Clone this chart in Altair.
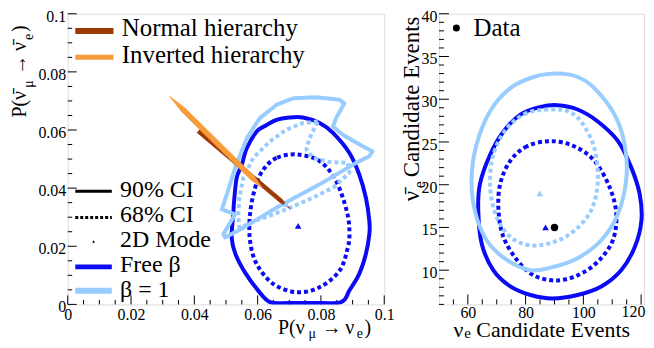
import altair as alt
import pandas as pd

FONT = "Liberation Serif"
DARK = "#0a0af5"
LIGHT = "#99ccff"
BROWN = "#9c3a06"
ORANGE = "#f89b3a"

# ---------------- left panel: P(numu->nue) vs P(numubar->nuebar) ----------------
FREE90_PX = [0.0743, 0.0700, 0.0660, 0.0620, 0.0597, 0.0566, 0.0550, 0.0534, 0.0526, 0.0523,
             0.0518, 0.0530, 0.0560, 0.0600, 0.0639, 0.0700, 0.0780, 0.0864, 0.0890, 0.0921,
             0.0942, 0.0953, 0.0953, 0.0942, 0.0921, 0.0890, 0.0838, 0.0796]
FREE90_PY = [0.0643, 0.0643, 0.0635, 0.0612, 0.0595, 0.0538, 0.0481, 0.0436, 0.0360, 0.0310,
             0.0230, 0.0173, 0.0110, 0.0050, 0.0008, 0.0005, 0.0005, 0.0008, 0.0048, 0.0105,
             0.0173, 0.0242, 0.0287, 0.0367, 0.0447, 0.0521, 0.0590, 0.0624]
FREE68_PX = [0.0723, 0.0660, 0.0618, 0.0592, 0.0576, 0.0576, 0.0597, 0.0649, 0.0723, 0.0796,
             0.0859, 0.0885, 0.0890, 0.0882, 0.0848, 0.0796]
FREE68_PY = [0.0516, 0.0504, 0.0464, 0.0401, 0.0310, 0.0219, 0.0139, 0.0071, 0.0042, 0.0059,
             0.0116, 0.0196, 0.0250, 0.0320, 0.0424, 0.0493]
B1_90_PX = [0.0712, 0.0785, 0.0859, 0.0874, 0.0848, 0.0838, 0.0869, 0.0932, 0.0963, 0.0953,
            0.0911, 0.0796, 0.0660, 0.0555, 0.0497, 0.0492, 0.0529, 0.0487, 0.0503, 0.0529,
            0.0566, 0.0607, 0.0660]
B1_90_PY = [0.0709, 0.0713, 0.0704, 0.0692, 0.0641, 0.0612, 0.0584, 0.0544, 0.0527, 0.0510,
            0.0487, 0.0413, 0.0333, 0.0264, 0.0230, 0.0242, 0.0310, 0.0327, 0.0379, 0.0470,
            0.0572, 0.0641, 0.0687]
B1_68_PX = [0.0790, 0.0743, 0.0691, 0.0639, 0.0586, 0.0555, 0.0542, 0.0539, 0.0542, 0.0607,
            0.0691, 0.0764, 0.0838, 0.0890, 0.0885, 0.0827, 0.0775, 0.0754, 0.0764, 0.0780]
B1_68_PY = [0.0629, 0.0624, 0.0601, 0.0561, 0.0504, 0.0436, 0.0367, 0.0310, 0.0264, 0.0293,
            0.0327, 0.0362, 0.0401, 0.0453, 0.0487, 0.0490, 0.0504, 0.0533, 0.0572, 0.0607]
NH_PX = [0.0417, 0.0677, 0.0702, 0.0669, 0.0409]
NH_PY = [0.0601, 0.0362, 0.0330, 0.0352, 0.0591]
IH_PX = [0.0322, 0.0371, 0.0590, 0.0613, 0.0579, 0.0360]
IH_PY = [0.0716, 0.0675, 0.0440, 0.0403, 0.0428, 0.0663]
MODE_FREE_P = (0.0728, 0.0270)
MODE_B1_P = (0.0689, 0.0346)

# ---------------- right panel: candidate events ----------------
R_FREE90_X = [91.0, 85.2, 78.2, 72.3, 67.7, 64.2, 63.6, 64.8, 68.8, 74.7, 81.7, 89.3, 98.0,
              106.2, 113.1, 117.8, 120.1, 119.5, 116.6, 112.0, 105.0, 98.0]
R_FREE90_Y = [29.3, 29.1, 28.2, 26.2, 23.5, 20.1, 17.0, 13.1, 10.0, 8.1, 7.1, 6.7, 7.1,
              8.1, 10.0, 12.7, 15.8, 18.9, 22.0, 25.1, 27.4, 28.8]
R_FREE68_X = [88.7, 80.5, 74.7, 71.2, 70.6, 72.3, 77.0, 82.8, 90.4, 98.0, 105.0, 110.2, 111.4,
              109.1, 103.8, 96.8]
R_FREE68_Y = [25.1, 24.5, 22.8, 20.1, 17.0, 13.9, 11.2, 9.4, 8.8, 9.4, 11.0, 13.5, 16.6,
              19.7, 22.8, 24.5]
R_B1_90_X = [91.0, 82.8, 74.7, 67.7, 63.0, 61.3, 62.4, 66.5, 73.5, 81.7, 89.8, 98.0, 106.2,
             112.0, 114.9, 114.3, 110.8, 103.8, 98.0]
R_B1_90_Y = [33.0, 32.6, 31.3, 28.6, 24.7, 20.8, 17.0, 13.5, 11.2, 10.0, 10.4, 11.4, 13.5,
             16.6, 20.8, 24.7, 28.2, 31.3, 32.6]
R_B1_68_X = [88.7, 80.5, 73.5, 68.8, 67.7, 70.0, 74.7, 81.7, 89.8, 96.8, 102.7, 105.0, 103.8,
             99.2, 94.5]
R_B1_68_Y = [28.8, 28.4, 26.6, 23.5, 19.7, 16.2, 13.9, 12.9, 13.3, 14.6, 17.0, 20.4, 24.3,
             27.4, 28.6]
R_DATA = (90.0, 15.0)
R_MODE_FREE = (86.9, 15.0)
R_MODE_B1 = (84.9, 19.0)

# axis ticks / labels
L_MAJOR = [0, 0.02, 0.04, 0.06, 0.08, 0.1]
L_MINOR = [round(i * 0.005, 3) for i in range(21) if i % 4 != 0]
RX_MAJOR = [60, 80, 100, 120]
RX_LABELS = [60, 80, 100]
RX_MINOR = [55, 65, 70, 75, 85, 90, 95, 105, 110, 115]
RY_MAJOR = [10, 15, 20, 25, 30, 35, 40]
RY_MINOR = [v for v in range(6, 41) if v % 5 != 0]

# ---------------- layout (page pixels) ----------------
L_X0, Y0, L_W, H = 66.7, 11.7, 318, 292
R_X0, R_W = 438.5, 206
SPLIT = 396  # page x where the two cells meet


def poly(xs, ys, close=True):
    xs, ys = list(xs), list(ys)
    if close:
        xs, ys = xs + xs[:1], ys + ys[:1]
    return pd.DataFrame({"x": xs, "y": ys, "o": list(range(len(xs)))})


def make_xy(xdom, ydom, xvals, yvals, fmt, xpad, ypad):
    common = dict(ticks=False, domain=False, grid=False, title=None, labelFont=FONT,
                  labelFontSize=16, labelColor="black", labelFlush=False,
                  labelOverlap=False, format=fmt)
    xs = alt.Scale(domain=xdom, nice=False, zero=False)
    ys = alt.Scale(domain=ydom, nice=False, zero=False)

    def X(f):
        return alt.X(f"{f}:Q", scale=xs,
                     axis=alt.Axis(values=xvals, labelPadding=xpad, **common))

    def Y(f):
        return alt.Y(f"{f}:Q", scale=ys,
                     axis=alt.Axis(values=yvals, labelPadding=ypad, labelOffset=2.5, **common))
    return X, Y


def contour(X, Y, xs, ys, color, width, dash=None, smooth=False):
    mk = dict(color=color, strokeWidth=width, clip=True, strokeJoin="round")
    if dash:
        mk["strokeDash"] = dash
    if smooth:
        mk["interpolate"] = "cardinal-closed"
    return alt.Chart(poly(xs, ys, close=not smooth)).mark_line(**mk).encode(
        x=X("x"), y=Y("y"), order="o:Q")


def polygon(X, Y, xs, ys, color):
    return alt.Chart(poly(xs, ys)).mark_line(
        filled=True, fill=color, stroke=color, strokeWidth=0.8, clip=True
    ).encode(x=X("x"), y=Y("y"), order="o:Q")


def marker(X, Y, pt, color, shape, size):
    return alt.Chart(pd.DataFrame({"x": [pt[0]], "y": [pt[1]]})).mark_point(
        shape=shape, filled=True, size=size, color=color, opacity=1
    ).encode(x=X("x"), y=Y("y"))


def xticks(X, vals, length):
    return alt.Chart(pd.DataFrame({"x": vals})).mark_rule(color="black", strokeWidth=1).encode(
        x=X("x"), y=alt.value(H), y2=alt.value(H - length))


def yticks(Y, vals, length):
    return alt.Chart(pd.DataFrame({"y": vals})).mark_rule(color="black", strokeWidth=1).encode(
        y=Y("y"), x=alt.value(0), x2=alt.value(length))


DUMMY = pd.DataFrame({"d": [0]})


def sample(x0, x1, y, color, width, dash=None):
    mk = dict(color=color, strokeWidth=width)
    if dash:
        mk["strokeDash"] = dash
    return alt.Chart(DUMMY).mark_rule(**mk).encode(
        x=alt.value(x0), x2=alt.value(x1), y=alt.value(y))


def anchor(x, y):
    # invisible zero-length rule that pins the layout bounds
    return alt.Chart(DUMMY).mark_rule(strokeWidth=0.5, opacity=0).encode(
        x=alt.value(x), x2=alt.value(x), y=alt.value(y), y2=alt.value(y))


def texts(rows, x0, y0):
    df = pd.DataFrame(rows, columns=["t", "px", "py", "fs", "ang"])
    df["px"] = df["px"] - x0
    df["py"] = df["py"] - y0
    return alt.Chart(df).mark_text(align="left", baseline="alphabetic", font=FONT,
                                   color="black").encode(
        x=alt.X("px:Q", scale=None, axis=None),
        y=alt.Y("py:Q", scale=None, axis=None),
        text="t:N",
        size=alt.Size("fs:Q", scale=None, legend=None),
        angle=alt.Angle("ang:Q", scale=None),
    )


NUBAR = "\u03bd\u0304"

# ---------------- left chart ----------------
LX, LY = make_xy([0, 0.1], [0, 0.1], L_MAJOR, L_MAJOR, ".2~f", 2, 2)
lx = lambda v: v - L_X0
ly = lambda v: v - Y0

left_text = [
    ("Normal hierarchy", 121, 34.3, 25, 0),
    ("Inverted hierarchy", 121, 61, 25, 0),
    ("90% CI", 119.3, 195.5, 24, 0),
    ("68% CI", 119.3, 221, 24, 0),
    ("2D Mode", 119.3, 246, 24, 0),
    ("Free \u03b2", 119.3, 271, 24, 0),
    ("\u03b2 = 1", 119.3, 296, 24, 0),
    ("P(\u03bd", 278, 333, 20, 0),
    ("\u03bc", 308.5, 337, 14, 0),
    ("\u2192", 322, 333, 20, 0),
    ("\u03bd", 345.5, 333, 20, 0),
    ("e", 357, 337, 14, 0),
    (")", 365, 333, 20, 0),
    ("P(" + NUBAR, 25, 116, 20, 270),
    ("\u03bc", 31.5, 86, 14, 270),
    ("\u2192", 25, 73, 20, 270),
    (NUBAR, 25, 49, 20, 270),
    ("e", 31.5, 38, 14, 270),
    (")", 25, 30, 20, 270),
]

left = alt.layer(
    anchor(lx(0), ly(0)), anchor(lx(SPLIT), ly(150)),
    xticks(LX, L_MAJOR, 9), xticks(LX, L_MINOR, 4.5),
    yticks(LY, L_MAJOR, 9), yticks(LY, L_MINOR, 4.5),
    contour(LX, LY, FREE90_PX, FREE90_PY, DARK, 4, smooth=True),
    contour(LX, LY, FREE68_PX, FREE68_PY, DARK, 4, [4, 3], smooth=True),
    contour(LX, LY, B1_90_PX, B1_90_PY, LIGHT, 4),
    contour(LX, LY, B1_68_PX, B1_68_PY, LIGHT, 4, [4, 3]),
    polygon(LX, LY, NH_PX, NH_PY, BROWN),
    polygon(LX, LY, IH_PX, IH_PY, ORANGE),
    marker(LX, LY, MODE_FREE_P, DARK, "triangle-up", 45),
    marker(LX, LY, MODE_B1_P, LIGHT, "triangle-up", 45),
    sample(lx(74.3), lx(112.7), ly(29), BROWN, 6),
    sample(lx(74.3), lx(112.7), ly(55.5), ORANGE, 5),
    sample(lx(74.3), lx(111), ly(190), "black", 3),
    sample(lx(74.3), lx(111), ly(216.5), "black", 3, [3, 2]),
    alt.Chart(DUMMY).mark_point(shape="triangle-up", filled=True, size=8, color="black",
                                opacity=1).encode(x=alt.value(lx(92.7)), y=alt.value(ly(240.5))),
    sample(lx(74.3), lx(111), ly(266), DARK, 5),
    sample(lx(74.3), lx(111), ly(290), LIGHT, 6),
    texts(left_text, L_X0, Y0),
).properties(width=L_W, height=H)

# ---------------- right chart ----------------
RX, RY = make_xy([50, 121], [6, 40], RX_LABELS, RY_MAJOR, "d", 0, 2)
rx = lambda v: v - R_X0
ry = lambda v: v - Y0

right_text = [
    ("Data", 473.3, 34.3, 25, 0),
    ("120", 622, 316.6, 16, 0),
    ("\u03bd", 453, 336, 22, 0),
    ("e", 464, 337, 15, 0),
    ("Candidate Events", 476, 336, 22, 0),
    (NUBAR, 418.3, 200, 23, 270),
    ("e", 424, 187, 16, 270),
    ("Candidate Events", 418.3, 176, 23, 270),
]

right = alt.layer(
    anchor(rx(SPLIT), ry(150)),
    xticks(RX, RX_MAJOR, 10), xticks(RX, RX_MINOR, 5),
    yticks(RY, RY_MAJOR, 10), yticks(RY, RY_MINOR, 5),
    contour(RX, RY, R_FREE90_X, R_FREE90_Y, DARK, 4, smooth=True),
    contour(RX, RY, R_FREE68_X, R_FREE68_Y, DARK, 4, [4, 3], smooth=True),
    contour(RX, RY, R_B1_90_X, R_B1_90_Y, LIGHT, 4, smooth=True),
    contour(RX, RY, R_B1_68_X, R_B1_68_Y, LIGHT, 4, [4, 3], smooth=True),
    marker(RX, RY, R_MODE_FREE, DARK, "triangle-up", 45),
    marker(RX, RY, R_MODE_B1, LIGHT, "triangle-up", 45),
    marker(RX, RY, R_DATA, "black", "circle", 55),
    alt.Chart(DUMMY).mark_point(shape="circle", filled=True, size=50, color="black",
                                opacity=1).encode(x=alt.value(rx(456)), y=alt.value(ry(26))),
    texts(right_text, R_X0, Y0),
).properties(width=R_W, height=H)

chart = alt.hconcat(left, right, spacing=0).properties(
    padding={"left": -8, "top": -8, "right": 0, "bottom": 0}
).configure_view(stroke="black", strokeWidth=1.2).configure(background="white")

chart.save("out.html", embed_options={"renderer": "svg", "actions": False})
